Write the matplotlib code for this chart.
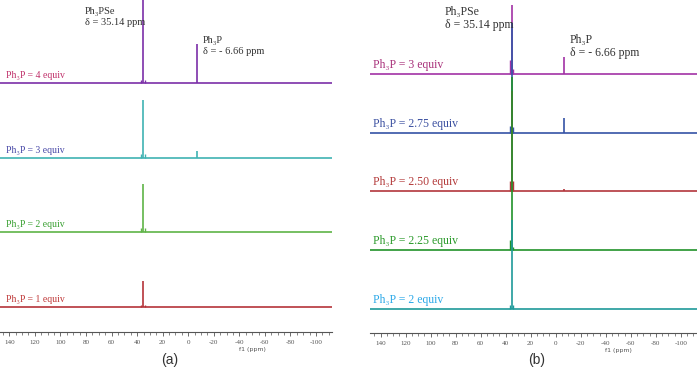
import numpy as np
import matplotlib.pyplot as plt

plt.rcParams["axes.unicode_minus"] = False

# chemical shifts (ppm)
ppm_se = 35.14
ppm_p = -6.66

# left panel (a): Ph3P equivalents, top trace first
left_labels = ["Ph₃P = 4 equiv", "Ph₃P = 3 equiv", "Ph₃P = 2 equiv", "Ph₃P = 1 equiv"]
left_se = [100, 58, 48, 26]        # Ph3PSe peak height
left_p = [39, 7, 0, 0]             # Ph3P peak height
left_sat = [3, 4, 4, 2]            # small satellites near Ph3PSe

# right panel (b)
right_labels = ["Ph₃P = 3 equiv", "Ph₃P = 2.75 equiv", "Ph₃P = 2.50 equiv",
                "Ph₃P = 2.25 equiv", "Ph₃P = 2 equiv"]
right_se = [69, 110, 100, 173, 89]
right_p = [17, 15, 2, 0, 0]
right_sat_l = [14, 7, 10, 10, 4]
right_sat_r = [5, 6, 10, 3, 4]

ticks = np.arange(140, -101, -20)

left_line = ["#7b2fa8", "#3fb3b3", "#5fb447", "#b5343a"]
left_text = ["#c0306a", "#4a4aa8", "#3aa032", "#c03a3a"]
right_line = ["#a232a6", "#3553a6", "#b3363c", "#21922a", "#1f9a9a"]
right_text = ["#a8307a", "#3a4fa0", "#b33a3a", "#2a9a2a", "#2aa8e8"]

serif = ["Liberation Serif", "DejaVu Serif"]


def setup_axis(ax, xlim, ylim):
    ax.set_xlim(*xlim)
    ax.set_ylim(*ylim)
    for s in ["top", "left", "right"]:
        ax.spines[s].set_visible(False)
    ax.spines["bottom"].set_color("#555555")
    ax.spines["bottom"].set_linewidth(0.8)
    ax.set_yticks([])
    ax.set_xticks(ticks)
    ax.set_xticks(np.arange(145, -111, -5), minor=True)
    ax.tick_params(axis="x", which="major", length=3, width=0.6, colors="#555555",
                   labelsize=5, pad=3)
    ax.tick_params(axis="x", which="minor", length=2, width=0.5, colors="#555555")
    for lab in ax.get_xticklabels():
        lab.set_family(serif)
    ax.patch.set_alpha(0)
    # axis title sits just under the tick labels
    ax.annotate("f1 (ppm)", xy=(-50, 0), xycoords=ax.get_xaxis_transform(),
                xytext=(0, -11), textcoords="offset points",
                fontsize=4.5, color="#555555", ha="center", va="top")


def draw_traces(ax, offsets, se, p, sat_l, sat_r, lcols, tcols, labels, xlab, xmin, xmax, fs):
    for i in range(len(offsets)):
        y0 = offsets[i]
        ax.hlines(y0, xmin, xmax, color=lcols[i], lw=1.2)
        ax.vlines([ppm_se + 1.6, ppm_se - 1.2], y0, [y0 + sat_l[i], y0 + sat_r[i]],
                  color=lcols[i], lw=1.0)
        ax.vlines(ppm_se, y0, y0 + se[i], color=lcols[i], lw=1.2)
        if p[i] > 0:
            ax.vlines(ppm_p, y0, y0 + p[i], color=lcols[i], lw=1.2)
        ax.text(xlab, y0 + 3, labels[i], color=tcols[i], fontsize=fs,
                family=serif, ha="left", va="bottom")


fig = plt.figure(figsize=(6.97, 3.69), dpi=100)

# ---- panel (a)
ax1 = fig.add_axes([0, 37 / 369, 332 / 697, 332 / 369])
setup_axis(ax1, (147.3, -112.5), (-25, 307))
draw_traces(ax1, [224, 149, 75, 0], left_se, left_p, left_sat, left_sat,
            left_line, left_text, left_labels, 142.5, 147.3, -112.5, 7)
ax1.text(80.8, 300, "Ph₃PSe\nδ = 35.14 ppm", fontsize=7.5, family=serif,
         color="#333333", va="top", ha="left", linespacing=1.3)
ax1.text(-11.6, 271, "Ph₃P\nδ = - 6.66 ppm", fontsize=7.5, family=serif,
         color="#333333", va="top", ha="left", linespacing=1.3)

# ---- panel (b)
ax2 = fig.add_axes([370 / 697, 36 / 369, 327 / 697, 333 / 369])
setup_axis(ax2, (148.4, -112.9), (-24, 309))
draw_traces(ax2, [235, 176, 118, 59, 0], right_se, right_p, right_sat_l, right_sat_r,
            right_line, right_text, right_labels, 146, 148.4, -112.9, 8.5)
ax2.text(88.5, 303, "Ph₃PSe\nδ = 35.14 ppm", fontsize=8.5, family=serif,
         color="#333333", va="top", ha="left", linespacing=1.1)
ax2.text(-11.4, 275, "Ph₃P\nδ = - 6.66 ppm", fontsize=8.5, family=serif,
         color="#333333", va="top", ha="left", linespacing=1.1)

fig.text(170 / 697, 1 - 360 / 369, "(a)", fontsize=10, family=["Liberation Sans"],
         ha="center", va="center", color="#333333")
fig.text(537 / 697, 1 - 360 / 369, "(b)", fontsize=10, family=["Liberation Sans"],
         ha="center", va="center", color="#333333")

fig.savefig("out.png", dpi=100)
